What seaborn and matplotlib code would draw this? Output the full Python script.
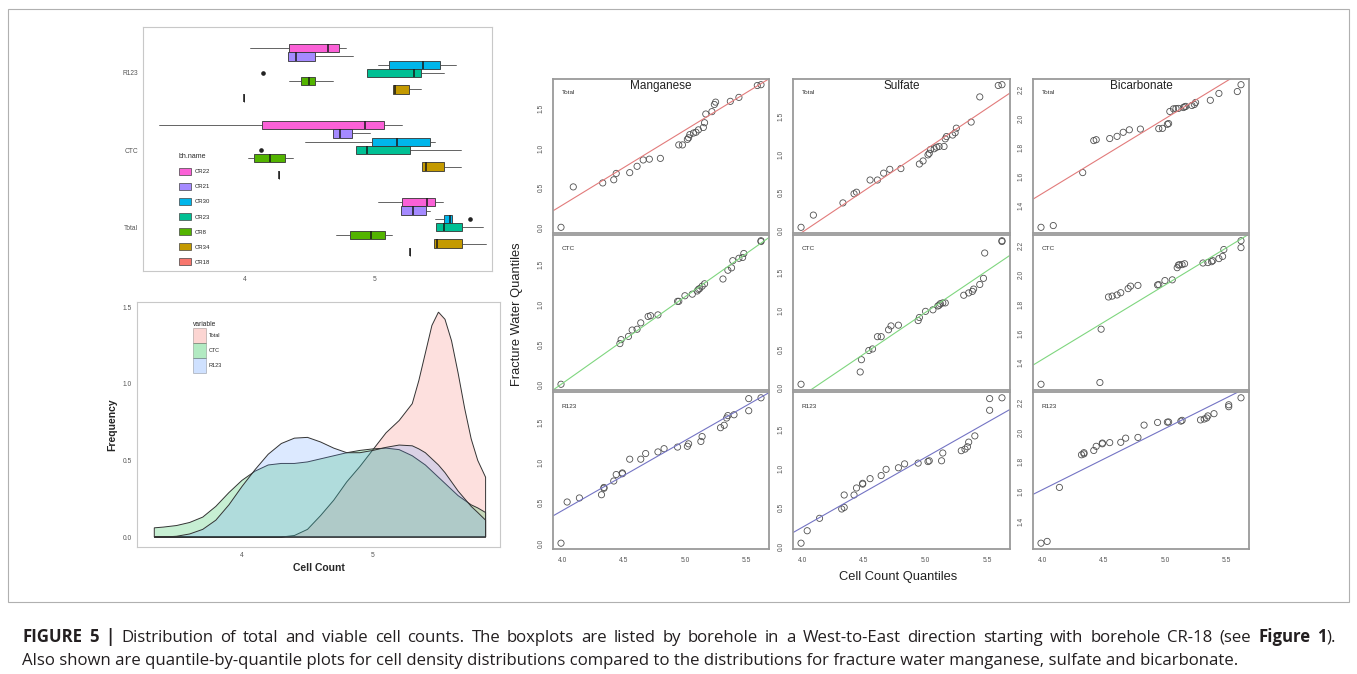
import numpy as np
import pandas as pd
import seaborn as sns
import matplotlib.pyplot as plt
from matplotlib.patches import Patch, Rectangle

# ---------------- boxplot data (log cell counts per borehole) ----------------
boreholes = ["CR22", "CR21", "CR30", "CR23", "CR8", "CR34", "CR18"]
bh_colors = ["#FB61D7", "#A58AFF", "#00B6EB", "#00C094", "#53B400", "#C49A00", "#F8766D"]
box_groups = ["R123", "CTC", "Total"]
# whisker low, q1, median, q3, whisker high
r123_stats = [
    [4.04, 4.34, 4.64, 4.72, 4.78],
    [4.33, 4.33, 4.39, 4.54, 4.83],
    [5.02, 5.11, 5.37, 5.50, 5.62],
    [4.94, 4.94, 5.30, 5.35, 5.53],
    [4.34, 4.43, 4.49, 4.54, 4.68],
    [5.14, 5.14, 5.15, 5.26, 5.35],
    [3.99, 3.99, 3.99, 3.99, 3.99],
]
ctc_stats = [
    [3.34, 4.13, 4.92, 5.07, 5.21],
    [4.68, 4.68, 4.73, 4.82, 4.96],
    [4.46, 4.98, 5.17, 5.42, 5.46],
    [4.85, 4.85, 4.94, 5.27, 5.66],
    [4.02, 4.07, 4.19, 4.31, 4.37],
    [5.36, 5.36, 5.39, 5.53, 5.66],
    [4.26, 4.26, 4.26, 4.26, 4.26],
]
total_stats = [
    [5.02, 5.21, 5.40, 5.46, 5.52],
    [5.20, 5.20, 5.29, 5.39, 5.42],
    [5.46, 5.53, 5.58, 5.59, 5.59],
    [5.47, 5.47, 5.53, 5.67, 5.83],
    [4.70, 4.81, 4.97, 5.08, 5.13],
    [5.45, 5.45, 5.48, 5.67, 5.85],
    [5.27, 5.27, 5.27, 5.27, 5.27],
]
box_outliers = [("R123", "CR23", 4.14), ("CTC", "CR23", 4.12), ("Total", "CR30", 5.73)]

# ---------------- density curves ----------------
dens_x = [3.33, 3.40, 3.50, 3.60, 3.70, 3.80, 3.90, 4.00, 4.10, 4.20, 4.30, 4.40, 4.50,
          4.60, 4.70, 4.80, 4.90, 5.00, 5.10, 5.20, 5.30, 5.35, 5.40, 5.45, 5.50, 5.55,
          5.60, 5.65, 5.70, 5.75, 5.80, 5.86]
dens_total = [0, 0, 0, 0, 0, 0, 0, 0, 0, 0, 0.0, 0.01, 0.05, 0.14, 0.24, 0.36, 0.46,
              0.57, 0.68, 0.76, 0.87, 1.02, 1.20, 1.38, 1.467, 1.42, 1.28, 1.07, 0.84,
              0.64, 0.50, 0.39]
dens_ctc = [0.06, 0.065, 0.075, 0.095, 0.13, 0.20, 0.29, 0.37, 0.43, 0.47, 0.48, 0.48,
            0.49, 0.51, 0.53, 0.55, 0.565, 0.575, 0.58, 0.57, 0.53, 0.50, 0.47, 0.43,
            0.39, 0.35, 0.31, 0.27, 0.24, 0.21, 0.19, 0.16]
dens_r123 = [0.0, 0.0, 0.005, 0.02, 0.05, 0.11, 0.21, 0.33, 0.44, 0.54, 0.61, 0.645,
             0.65, 0.62, 0.58, 0.55, 0.55, 0.565, 0.585, 0.60, 0.595, 0.575, 0.55, 0.51,
             0.47, 0.42, 0.36, 0.30, 0.25, 0.20, 0.16, 0.11]
dens_names = ["Total", "CTC", "R123"]
dens_colors = ["#F8766D", "#00BA38", "#619CFF"]

# ---------------- Q-Q data ----------------
row_names = ["Total", "CTC", "R123"]
cell_q_total = [3.99, 4.09, 4.33, 4.42, 4.44, 4.55, 4.61, 4.66, 4.71, 4.80, 4.95, 4.98, 5.02, 5.03,
                5.04, 5.07, 5.09, 5.11, 5.15, 5.16, 5.17, 5.22, 5.24, 5.25, 5.37, 5.44, 5.59, 5.62]
cell_q_ctc = [3.99, 4.47, 4.48, 4.54, 4.57, 4.61, 4.64, 4.70, 4.72, 4.78, 4.94, 4.95, 5.00, 5.06,
              5.10, 5.11, 5.12, 5.14, 5.16, 5.31, 5.35, 5.38, 5.39, 5.44, 5.47, 5.48, 5.62, 5.62]
cell_q_r123 = [3.99, 4.04, 4.14, 4.32, 4.34, 4.34, 4.42, 4.44, 4.49, 4.49, 4.55, 4.64, 4.68, 4.78,
               4.83, 4.94, 5.02, 5.03, 5.13, 5.14, 5.29, 5.32, 5.34, 5.35, 5.40, 5.52, 5.52, 5.62]
col_names = ["Manganese", "Sulfate", "Bicarbonate"]
mn_q = [0.00, 0.51, 0.56, 0.60, 0.68, 0.69, 0.77, 0.85, 0.86, 0.87, 1.04, 1.04, 1.11, 1.13,
        1.17, 1.19, 1.20, 1.23, 1.26, 1.32, 1.43, 1.46, 1.55, 1.58, 1.59, 1.64, 1.79, 1.80]
so4_q = [0.04, 0.20, 0.36, 0.48, 0.50, 0.66, 0.66, 0.75, 0.80, 0.81, 0.87, 0.91, 0.99, 1.01,
         1.06, 1.07, 1.09, 1.10, 1.10, 1.20, 1.23, 1.25, 1.28, 1.34, 1.42, 1.75, 1.90, 1.91]
hco3_q = [1.252, 1.264, 1.628, 1.848, 1.854, 1.862, 1.877, 1.905, 1.922, 1.927, 1.930, 1.932,
          1.960, 1.965, 2.048, 2.066, 2.068, 2.069, 2.075, 2.080, 2.083, 2.089, 2.096, 2.110,
          2.125, 2.172, 2.185, 2.232]
# reference lines, rows = Total/CTC/R123, cols = Mn/SO4/HCO3
line_slope = [[0.947, 1.083, 0.514],
              [1.087, 1.085, 0.508],
              [0.867, 0.900, 0.413]]
line_intercept = [[-3.509, -4.356, -0.572],
                  [-4.339, -4.448, -0.611],
                  [-3.065, -3.356, -0.040]]
line_colors = ["#e27b7b", "#7fd67f", "#7474c4"]
y_ticks = [[0, 0.5, 1.0, 1.5], [0, 0.5, 1.0, 1.5], [1.4, 1.6, 1.8, 2.0, 2.2]]

caption_1 = [("FIGURE 5 |", "bold"),
             (" Distribution of total and viable cell counts. The boxplots are listed by borehole "
              "in a West-to-East direction starting with borehole CR-18 (see ", "normal"),
             ("Figure 1", "bold"), (").", "normal")]
caption_2 = ("Also shown are quantile-by-quantile plots for cell density distributions compared "
             "to the distributions for fracture water manganese, sulfate and bicarbonate.")

# ---------------------------------------------------------------------------
sns.set_style("white")
plt.rcParams['font.family'] = ['Liberation Sans', 'DejaVu Sans']

W, H = 1357, 674
fig = plt.figure(figsize=(W / 100, H / 100), dpi=100)


def px_axes(l, t, r, b):
    return fig.add_axes([l / W, 1 - b / H, (r - l) / W, (b - t) / H])


def light_frame(ax, color="#c8c8c8", lw=0.8):
    for s in ax.spines.values():
        s.set_visible(True)
        s.set_color(color)
        s.set_linewidth(lw)


tick_grey = "#555555"

# ---------------- boxplot panel ----------------
ax = px_axes(143, 27, 492, 271)
stats_by_group = {"R123": r123_stats, "CTC": ctc_stats, "Total": total_stats}
slot = 0.75 / len(boreholes)
for gi, g in enumerate(box_groups):
    for bi, (bh, st, col) in enumerate(zip(boreholes, stats_by_group[g], bh_colors)):
        fl = [v for (gg, bb, v) in box_outliers if gg == g and bb == bh]
        s = dict(whislo=st[0], q1=st[1], med=st[2], q3=st[3], whishi=st[4], fliers=fl)
        ax.bxp([s], positions=[gi + (bi - 3) * slot], widths=slot, orientation="horizontal",
               patch_artist=True, showcaps=False, manage_ticks=False,
               boxprops=dict(facecolor=col, edgecolor="#333333", linewidth=0.6),
               medianprops=dict(color="#1a1a1a", linewidth=1.1),
               whiskerprops=dict(color="#4a4a4a", linewidth=0.6),
               flierprops=dict(marker="o", markersize=2.3, markerfacecolor="#222222",
                               markeredgecolor="#222222"))
ax.set_xlim(3.215, 5.9)
ax.set_ylim(2.571, -0.597)
ax.set_yticks(range(len(box_groups)))
ax.set_yticklabels(box_groups)
ax.set_xticks([4, 5])
ax.set_xticklabels(["4", "5"])
ax.tick_params(labelsize=4.8, colors=tick_grey, length=2, width=0.5, pad=1.5)
light_frame(ax)
handles = [Patch(facecolor=c, edgecolor="#444444", linewidth=0.5, label=b)
           for b, c in zip(boreholes, bh_colors)]
ax.legend(handles=handles, title="bh.name", loc="upper left", frameon=False,
          bbox_to_anchor=(179 / W, 1 - 153 / H), bbox_transform=fig.transFigure,
          fontsize=4.3, title_fontsize=5, handlelength=2.0, handleheight=1.5,
          labelspacing=1.3, handletextpad=0.6, borderaxespad=0, borderpad=0,
          alignment="left")

# ---------------- density panel ----------------
ax = px_axes(137, 302, 500, 547)
for name, ys, col in zip(dens_names, [dens_total, dens_ctc, dens_r123], dens_colors):
    xs = [dens_x[0]] + dens_x + [dens_x[-1]]
    yy = [0] + ys + [0]
    ax.fill(xs, yy, facecolor=col, alpha=0.22, edgecolor="none", label=name)
    ax.fill(xs, yy, facecolor="none", edgecolor="#333333", linewidth=0.7)
ax.set_xlim(3.198, 5.97)
ax.set_ylim(-0.065, 1.533)
ax.set_xticks([4, 5])
ax.set_xticklabels(["4", "5"])
ax.set_yticks([0, 0.5, 1.0, 1.5])
ax.set_yticklabels(["0.0", "0.5", "1.0", "1.5"])
ax.tick_params(labelsize=4.8, colors=tick_grey, length=2, width=0.5, pad=1.5)
ax.set_xlabel("Cell Count", fontsize=7.5, fontweight="bold", labelpad=3)
ax.set_ylabel("Frequency", fontsize=7.5, fontweight="bold", labelpad=4)
light_frame(ax)
dh = [Patch(facecolor=c, alpha=0.3, edgecolor="#333333", linewidth=0.6, label=n)
      for n, c in zip(dens_names, dens_colors)]
ax.legend(handles=dh, title="variable", loc="upper left", frameon=False,
          bbox_to_anchor=(193 / W, 1 - 321 / H), bbox_transform=fig.transFigure,
          fontsize=4.0, title_fontsize=4.8, handlelength=2.4, handleheight=3.8,
          labelspacing=0.0, handletextpad=0.4, borderaxespad=0, borderpad=0,
          alignment="left")

# ---------------- Q-Q panels ----------------
cells = [cell_q_total, cell_q_ctc, cell_q_r123]
waters = [mn_q, so4_q, hco3_q]
col_left = [553, 793, 1033]
col_right = [769, 1010, 1249]
row_top = [79, 235, 392]
row_bottom = [233, 390, 549]
all_x = np.concatenate(cells)
xr = all_x.max() - all_x.min()
for ri in range(3):
    for ci in range(3):
        ax = px_axes(col_left[ci], row_top[ri], col_right[ci], row_bottom[ri])
        df = pd.DataFrame({"cell": np.sort(cells[ri]), "water": np.sort(waters[ci])})
        sns.scatterplot(data=df, x="cell", y="water", ax=ax, marker="o", s=20,
                        facecolors="none", edgecolor="#505050", linewidth=0.6)
        ax.axline((0, line_intercept[ri][ci]), slope=line_slope[ri][ci],
                  color=line_colors[ri], linewidth=0.8, zorder=1)
        wr = max(waters[ci]) - min(waters[ci])
        ax.set_xlim(all_x.min() - 0.04 * xr, all_x.max() + 0.04 * xr)
        ax.set_ylim(min(waters[ci]) - 0.04 * wr, max(waters[ci]) + 0.04 * wr)
        ax.set_xlabel("")
        ax.set_ylabel("")
        ax.set_yticks(y_ticks[ci])
        ax.set_yticklabels([f"{v:.1f}" for v in y_ticks[ci]], rotation=90, va="center")
        if ri == 2:
            ax.set_xticks([4.0, 4.5, 5.0, 5.5])
            ax.set_xticklabels(["4.0", "4.5", "5.0", "5.5"])
        else:
            ax.set_xticks([])
        ax.tick_params(labelsize=4.8, colors=tick_grey, length=3, width=0.5, pad=3)
        light_frame(ax, color="#9a9a9a", lw=1.3)
        ax.text(0.04, 0.91, row_names[ri], transform=ax.transAxes, fontsize=4.6,
                color="#333333", va="center")
        if ri == 0:
            ax.text(0.5, 0.955, col_names[ci], transform=ax.transAxes, fontsize=8.5,
                    ha="center", va="center", color="#222222")

fig.text(517 / W, 1 - 314 / H, "Fracture Water Quantiles", rotation=90, ha="center",
         va="center", fontsize=9.3, color="#222222")
fig.text(898 / W, 1 - 577 / H, "Cell Count Quantiles", ha="center", va="center",
         fontsize=9.3, color="#222222")

# ---------------- outer frame and caption ----------------
fig.patches.append(Rectangle((8 / W, 1 - 602 / H), (1349 - 8) / W, (602 - 9) / H,
                             transform=fig.transFigure, fill=False,
                             edgecolor="#b0b0b0", linewidth=0.8))

cap_kw = dict(fontsize=12.1, color="#231f20", va="baseline",
              family=["Open Sans", "DejaVu Sans"])
renderer = fig.canvas.get_renderer()

# first caption line is justified between x=22 and x=1336
words = [[]]
for txt, wt in caption_1:
    for k, part in enumerate(txt.split(" ")):
        if k > 0:
            words.append([])
        if part:
            words[-1].append((part, wt))
words = [w for w in words if w]
word_texts, word_widths = [], []
for w in words:
    pieces, width = [], 0.0
    for part, wt in w:
        t = fig.text(0, 1 - 642 / H, part, fontweight=wt, **cap_kw)
        pw = t.get_window_extent(renderer).width
        pieces.append((t, width))
        width += pw
    word_texts.append(pieces)
    word_widths.append(width)
gap = (1336 - 22 - sum(word_widths)) / (len(words) - 1)
x = 22.0
for pieces, ww in zip(word_texts, word_widths):
    for t, off in pieces:
        t.set_x((x + off) / W)
    x += ww + gap
fig.text(22 / W, 1 - 665 / H, caption_2, **cap_kw)

fig.savefig("out.png", dpi=100, facecolor="white")
